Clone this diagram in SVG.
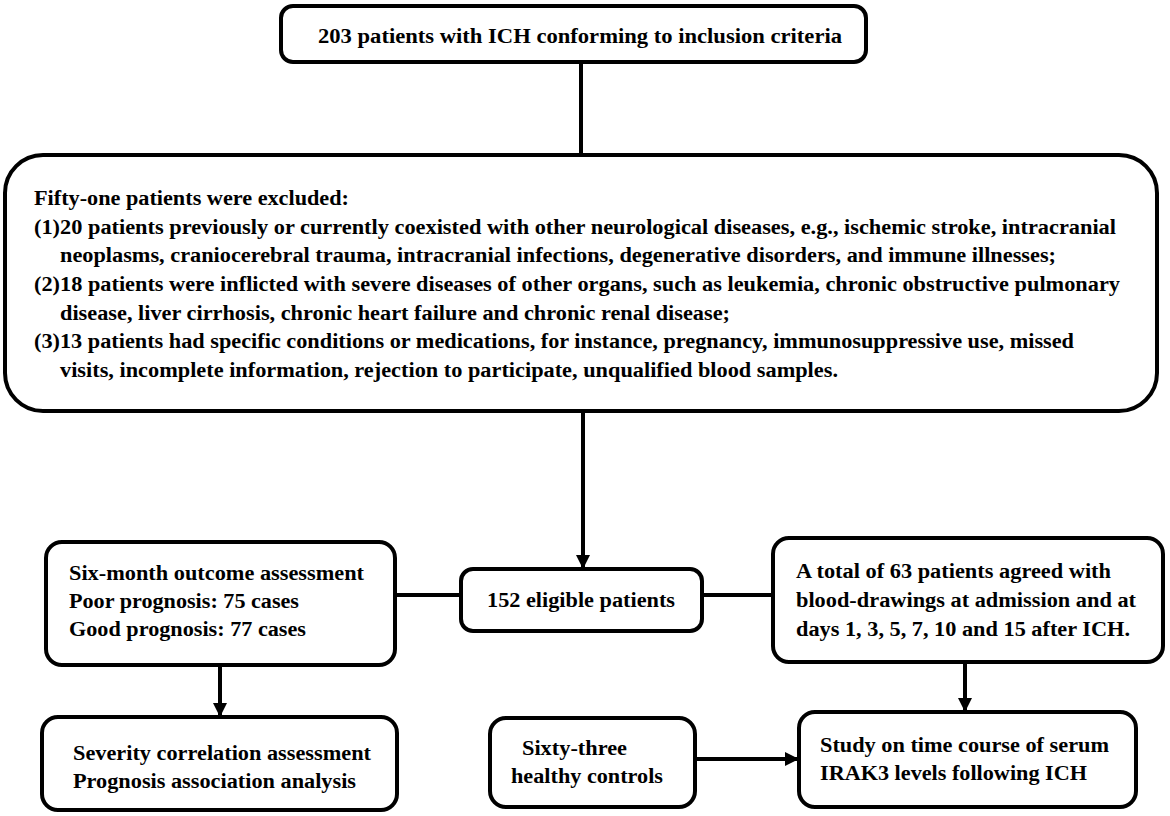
<svg xmlns="http://www.w3.org/2000/svg" width="1170" height="816" viewBox="0 0 1170 816">
<style>
.box{fill:#fff;stroke:#000;stroke-width:4}
.t{font-family:'Liberation Serif','Tinos','Noto Serif','DejaVu Serif','Times New Roman',serif;font-weight:bold;font-size:20px;fill:#000}
.ln{stroke:#000;stroke-width:4;fill:none}
</style>
<defs>
<marker id="ah" markerUnits="userSpaceOnUse" markerWidth="14" markerHeight="14" refX="14" refY="7" orient="auto">
<path d="M0,0 L14,7 L0,14 z" fill="#000"/>
</marker>
</defs>
<rect width="1170" height="816" fill="#fff"/>
<g id="connectors">
<line class="ln" x1="581" y1="62" x2="581" y2="155"/>
<line class="ln" x1="583" y1="411" x2="583" y2="569" marker-end="url(#ah)"/>
<line class="ln" x1="395" y1="595" x2="461" y2="595"/>
<line class="ln" x1="702" y1="595" x2="773" y2="595"/>
<line class="ln" x1="220" y1="665" x2="220" y2="717" marker-end="url(#ah)"/>
<line class="ln" x1="965" y1="662" x2="965" y2="712" marker-end="url(#ah)"/>
<line class="ln" x1="695" y1="759" x2="799" y2="759" marker-end="url(#ah)"/>
</g>
<g id="n-top">
<rect class="box" x="281" y="6" width="585" height="56" rx="12"/>
<text class="t" x="318" y="43" textLength="524" lengthAdjust="spacingAndGlyphs">203 patients with ICH conforming to inclusion criteria</text>
</g>
<g id="n-excluded">
<rect class="box" x="5" y="155" width="1152" height="256" rx="38"/>
<text class="t" x="34" y="205" textLength="315" lengthAdjust="spacingAndGlyphs">Fifty-one patients were excluded:</text>
<text class="t" x="34" y="234" textLength="1082" lengthAdjust="spacingAndGlyphs">(1)20 patients previously or currently coexisted with other neurological diseases, e.g., ischemic stroke, intracranial</text>
<text class="t" x="60" y="262" textLength="996" lengthAdjust="spacingAndGlyphs">neoplasms, craniocerebral trauma, intracranial infections, degenerative disorders, and immune illnesses;</text>
<text class="t" x="34" y="291" textLength="1086" lengthAdjust="spacingAndGlyphs">(2)18 patients were inflicted with severe diseases of other organs, such as leukemia, chronic obstructive pulmonary</text>
<text class="t" x="60" y="320" textLength="670" lengthAdjust="spacingAndGlyphs">disease, liver cirrhosis, chronic heart failure and chronic renal disease;</text>
<text class="t" x="34" y="348" textLength="1040" lengthAdjust="spacingAndGlyphs">(3)13 patients had specific conditions or medications, for instance, pregnancy, immunosuppressive use, missed</text>
<text class="t" x="60" y="377" textLength="778" lengthAdjust="spacingAndGlyphs">visits, incomplete information, rejection to participate, unqualified blood samples.</text>
</g>
<g id="n-eligible">
<rect class="box" x="461" y="569" width="241" height="62" rx="12"/>
<text class="t" x="487" y="607" textLength="188" lengthAdjust="spacingAndGlyphs">152 eligible patients</text>
</g>
<g id="n-outcome">
<rect class="box" x="46" y="542" width="349" height="123" rx="16"/>
<text class="t" x="69" y="580" textLength="295" lengthAdjust="spacingAndGlyphs">Six-month outcome assessment</text>
<text class="t" x="69" y="608" textLength="230" lengthAdjust="spacingAndGlyphs">Poor prognosis: 75 cases</text>
<text class="t" x="69" y="636" textLength="237" lengthAdjust="spacingAndGlyphs">Good prognosis: 77 cases</text>
</g>
<g id="n-blood">
<rect class="box" x="773" y="538" width="390" height="124" rx="16"/>
<text class="t" x="796" y="578" textLength="315" lengthAdjust="spacingAndGlyphs">A total of 63 patients agreed with</text>
<text class="t" x="796" y="607" textLength="340" lengthAdjust="spacingAndGlyphs">blood-drawings at admission and at</text>
<text class="t" x="796" y="636" textLength="334" lengthAdjust="spacingAndGlyphs">days 1, 3, 5, 7, 10 and 15 after ICH.</text>
</g>
<g id="n-severity">
<rect class="box" x="42" y="717" width="355" height="93" rx="16"/>
<text class="t" x="73" y="760" textLength="298" lengthAdjust="spacingAndGlyphs">Severity correlation assessment</text>
<text class="t" x="73" y="788" textLength="283" lengthAdjust="spacingAndGlyphs">Prognosis association analysis</text>
</g>
<g id="n-controls">
<rect class="box" x="490" y="718" width="205" height="89" rx="16"/>
<text class="t" x="522" y="755" textLength="105" lengthAdjust="spacingAndGlyphs">Sixty-three</text>
<text class="t" x="511" y="783" textLength="152" lengthAdjust="spacingAndGlyphs">healthy controls</text>
</g>
<g id="n-study">
<rect class="box" x="799" y="712" width="337" height="95" rx="16"/>
<text class="t" x="820" y="752" textLength="289" lengthAdjust="spacingAndGlyphs">Study on time course of serum</text>
<text class="t" x="820" y="780" textLength="267" lengthAdjust="spacingAndGlyphs">IRAK3 levels following ICH</text>
</g>
</svg>
